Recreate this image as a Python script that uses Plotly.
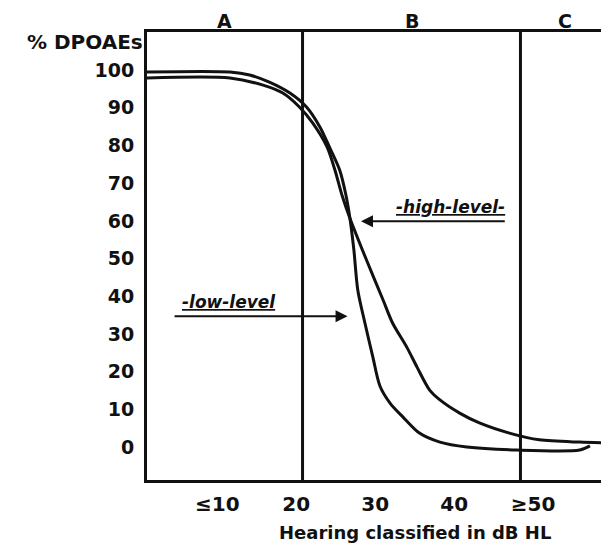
import plotly.graph_objects as go

# ---- data ----
low_x = [1.1, 11.6, 14.1, 16.6, 19.2, 21.3, 23.0, 24.2, 25.5, 26.3, 26.8, 27.3, 27.8, 28.7, 29.7, 30.6, 31.9, 33.5, 35.6, 38.2, 41.6, 47.9, 55.9, 57.2]
low_y = [99.5, 99.5, 98.7, 96.8, 93.9, 90.2, 84.9, 79.6, 73.5, 66.8, 60.7, 52.3, 41.6, 32.9, 23.9, 16.2, 11.6, 8.0, 3.7, 1.3, 0.0, -0.8, -0.8, 0.3]

high_x = [1.1, 11.6, 15.8, 18.3, 20.4, 22.1, 23.9, 24.9, 25.8, 26.8, 28.9, 31.0, 32.2, 34.0, 35.3, 36.9, 38.2, 40.7, 43.2, 47.0, 50.8, 55.9, 59.6]
high_y = [97.9, 97.9, 96.0, 93.9, 90.2, 85.9, 79.6, 73.5, 66.8, 60.7, 49.6, 39.0, 32.9, 26.5, 21.2, 15.1, 12.5, 9.0, 6.4, 3.7, 1.9, 1.3, 1.1]

x_tickvals = [10, 20, 30, 40, 50]
x_ticktext = ["≤10", "20", "30", "40", "≥50"]
y_tickvals = [0, 10, 20, 30, 40, 50, 60, 70, 80, 90, 100]
region_bounds = [20.8, 48.4]
region_labels = ["A", "B", "C"]

x_range = [1.1, 58.6]
x_chart_end = 59.6
y_range = [-8.75, 110.1]

FONT = "DejaVu Sans"
BLK = "#111111"

fig = go.Figure()
fig.add_trace(go.Scatter(x=low_x, y=low_y, mode="lines", name="low-level",
                         line=dict(color=BLK, width=3, shape="spline", smoothing=0.8)))
fig.add_trace(go.Scatter(x=high_x, y=high_y, mode="lines", name="high-level",
                         line=dict(color=BLK, width=3, shape="spline", smoothing=0.8)))

for b in region_bounds:
    fig.add_shape(type="line", xref="x", yref="paper", x0=b, x1=b, y0=0, y1=1,
                  line=dict(color=BLK, width=3))

edges = [x_range[0]] + region_bounds + [x_chart_end]
for i, lab in enumerate(region_labels):
    fig.add_annotation(x=(edges[i] + edges[i + 1]) / 2, y=1.0, xref="x", yref="paper",
                       text=lab, showarrow=False, yanchor="bottom", yshift=-2,
                       font=dict(family=FONT, size=19, color=BLK, weight="bold"))

# axis titles
fig.add_annotation(x=0, y=1.0, xref="paper", yref="paper", text="% DPOAEs",
                   showarrow=False, xanchor="right", yanchor="middle", xshift=-2, yshift=-10,
                   font=dict(family=FONT, size=20, color=BLK, weight="bold"))
fig.add_annotation(x=35, y=0, xref="x", yref="paper", text="Hearing classified in dB HL",
                   showarrow=False, yanchor="top", yshift=-40,
                   font=dict(family=FONT, size=18, color=BLK, weight="bold"))

# curve labels with arrows
fig.add_annotation(x=26.5, y=34.7, ax=4.4, ay=34.7, xref="x", yref="y", axref="x", ayref="y",
                   text="", showarrow=True, arrowhead=2, arrowsize=1.2, arrowwidth=2, arrowcolor=BLK)
fig.add_annotation(x=11.5, y=34.7, xref="x", yref="y", text="<i><u>-low-level</u></i>",
                   showarrow=False, yanchor="bottom", yshift=2,
                   font=dict(family=FONT, size=17, color=BLK, weight="bold"))
fig.add_annotation(x=28.2, y=59.9, ax=46.6, ay=59.9, xref="x", yref="y", axref="x", ayref="y",
                   text="", showarrow=True, arrowhead=2, arrowsize=1.2, arrowwidth=2, arrowcolor=BLK)
fig.add_annotation(x=39.6, y=59.9, xref="x", yref="y", text="<i><u>-high-level-</u></i>",
                   showarrow=False, yanchor="bottom", yshift=2,
                   font=dict(family=FONT, size=17, color=BLK, weight="bold"))

fig.update_layout(
    width=593, height=539,
    margin=dict(l=139, r=0, t=24, b=67),
    paper_bgcolor="white", plot_bgcolor="white",
    showlegend=False,
    font=dict(family=FONT, color=BLK),
)
fig.update_xaxes(range=x_range, tickvals=x_tickvals, ticktext=x_ticktext,
                 showgrid=False, zeroline=False, showline=True, mirror=True,
                 linecolor=BLK, linewidth=3, ticks="", ticklabelstandoff=4,
                 tickfont=dict(family=FONT, size=20, color=BLK, weight="bold"))
fig.update_yaxes(range=y_range, tickvals=y_tickvals,
                 showgrid=False, zeroline=False, showline=True, mirror=False,
                 linecolor=BLK, linewidth=3, ticks="", ticklabelstandoff=6,
                 tickfont=dict(family=FONT, size=19, color=BLK, weight="bold"))

fig.write_html("out.html")
